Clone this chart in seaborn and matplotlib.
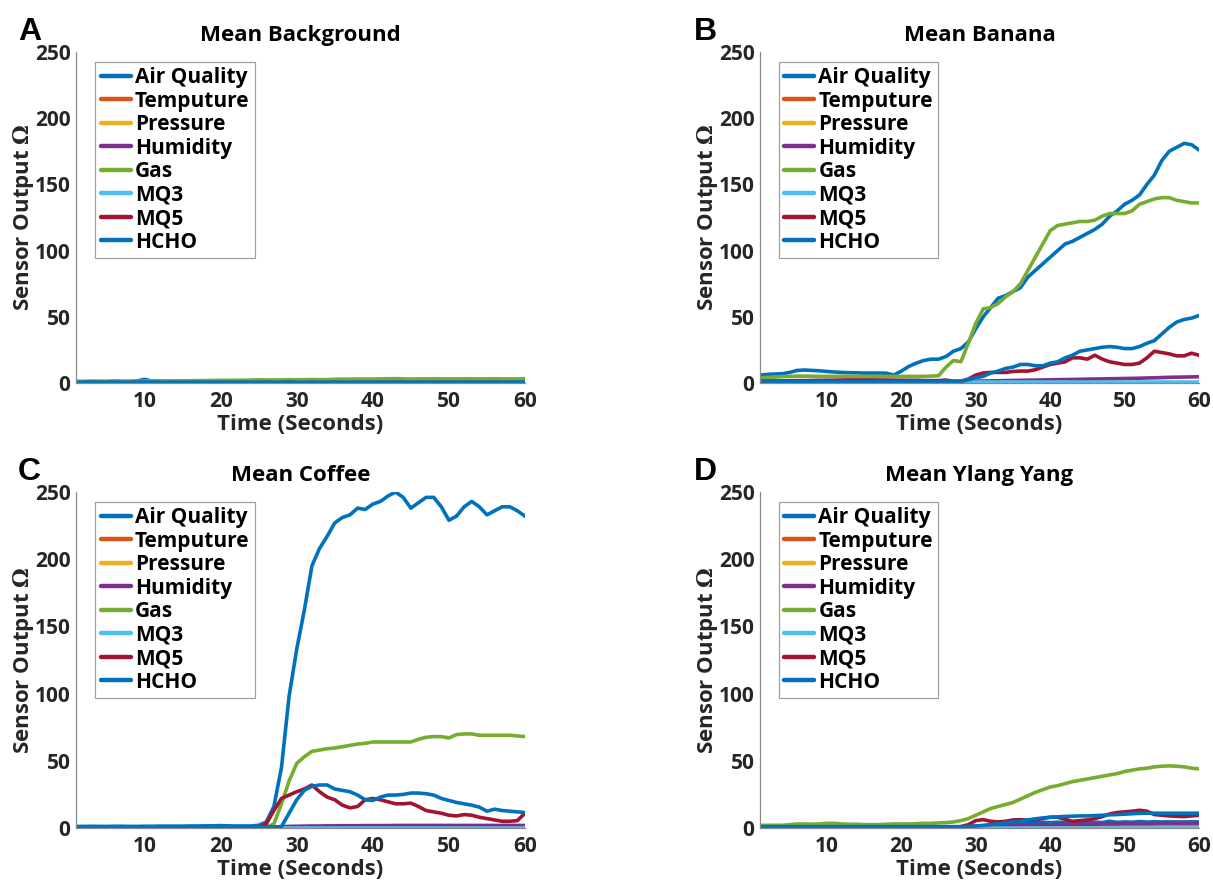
"""
plot.py - Mean sensor outputs for four odour samples (2x2 panels).
"""

import pandas as pd
import matplotlib
matplotlib.use("Agg")  # no display
import matplotlib.pyplot as plt
import seaborn as sns

TIME = list(range(1, 61))

SENSORS = ["Air Quality", "Temputure", "Pressure", "Humidity",
           "Gas", "MQ3", "MQ5", "HCHO"]
COLORS = ["#0072BD", "#D95319", "#EDB120", "#7E2F8E",
          "#77AC30", "#4DBEEE", "#A2142F", "#0072BD"]

PANEL_LETTERS = ["A", "B", "C", "D"]
PANEL_TITLES = ["Mean Background", "Mean Banana", "Mean Coffee", "Mean Ylang Yang"]
X_TICKS = [10, 20, 30, 40, 50, 60]
Y_TICKS = [0, 50, 100, 150, 200, 250]

# near-zero traces (Temputure, Pressure, MQ3 sit on the baseline)
NEAR_ZERO = [0.1, 0.1, 0.1, 0.1, 0.1, 0.1, 0.1, 0.1, 0.1, 0.1,
             0.1, 0.1, 0.1, 0.1, 0.1, 0.1, 0.1, 0.1, 0.1, 0.1,
             0.1, 0.1, 0.1, 0.1, 0.1, 0.1, 0.1, 0.1, 0.1, 0.1,
             0.1, 0.1, 0.1, 0.1, 0.1, 0.1, 0.1, 0.1, 0.1, 0.1,
             0.1, 0.1, 0.1, 0.1, 0.1, 0.1, 0.1, 0.1, 0.1, 0.1,
             0.1, 0.1, 0.1, 0.1, 0.1, 0.1, 0.1, 0.1, 0.1, 0.1]

# ---- A: background ----
bg_air = [1.2, 1.1, 1.3, 1.2, 1.1, 1.4, 1.2, 1.1, 1.5, 2.8,
          1.4, 1.2, 1.3, 1.2, 1.1, 1.2, 1.3, 1.2, 1.1, 1.2,
          1.3, 1.2, 1.2, 1.3, 1.2, 1.3, 1.2, 1.2, 1.3, 1.4,
          1.3, 1.2, 1.3, 1.2, 1.3, 1.4, 1.3, 1.2, 1.3, 1.4,
          1.3, 1.4, 1.3, 1.2, 1.3, 1.4, 1.3, 1.4, 1.5, 1.4,
          1.3, 1.4, 1.5, 1.4, 1.3, 1.4, 1.5, 1.4, 1.3, 1.4]
bg_hum = [0.3, 0.3, 0.3, 0.3, 0.3, 0.3, 0.3, 0.3, 0.3, 0.3,
          0.3, 0.3, 0.3, 0.3, 0.3, 0.3, 0.3, 0.3, 0.3, 0.3,
          0.3, 0.3, 0.3, 0.3, 0.3, 0.3, 0.3, 0.3, 0.3, 0.3,
          0.4, 0.4, 0.4, 0.4, 0.4, 0.4, 0.4, 0.4, 0.4, 0.4,
          0.4, 0.4, 0.4, 0.4, 0.4, 0.4, 0.4, 0.4, 0.4, 0.4,
          0.5, 0.5, 0.5, 0.5, 0.5, 0.5, 0.5, 0.5, 0.5, 0.5]
bg_gas = [1.0, 1.0, 1.1, 1.1, 1.2, 1.4, 1.3, 1.3, 1.4, 1.5,
          1.5, 1.6, 1.5, 1.6, 1.7, 1.7, 1.8, 1.8, 1.9, 2.0,
          2.0, 2.1, 2.1, 2.2, 2.4, 2.3, 2.3, 2.4, 2.5, 2.4,
          2.5, 2.6, 2.5, 2.5, 2.8, 2.9, 2.9, 3.0, 3.0, 3.0,
          3.1, 3.2, 3.3, 3.1, 3.0, 3.1, 3.1, 3.2, 3.1, 3.1,
          3.1, 3.2, 3.1, 3.1, 3.1, 3.2, 3.1, 3.1, 3.1, 3.2]
bg_mq5 = [0.2, 0.2, 0.2, 0.2, 0.2, 0.2, 0.2, 0.2, 0.2, 0.2,
          0.2, 0.2, 0.2, 0.2, 0.2, 0.2, 0.2, 0.2, 0.2, 0.2,
          0.2, 0.2, 0.2, 0.2, 0.2, 0.2, 0.2, 0.2, 0.2, 0.2,
          0.2, 0.2, 0.2, 0.2, 0.2, 0.2, 0.2, 0.2, 0.2, 0.2,
          0.2, 0.2, 0.2, 0.2, 0.2, 0.2, 0.2, 0.2, 0.2, 0.2,
          0.2, 0.2, 0.2, 0.2, 0.2, 0.2, 0.2, 0.2, 0.2, 0.2]
bg_hcho = [0.6, 0.6, 0.7, 0.6, 0.6, 0.7, 0.6, 0.6, 0.7, 0.8,
           0.7, 0.6, 0.6, 0.7, 0.6, 0.6, 0.7, 0.6, 0.6, 0.7,
           0.6, 0.6, 0.7, 0.6, 0.6, 0.7, 0.6, 0.6, 0.7, 0.6,
           0.6, 0.7, 0.6, 0.6, 0.7, 0.6, 0.6, 0.7, 0.6, 0.6,
           0.7, 0.6, 0.6, 0.7, 0.6, 0.6, 0.7, 0.6, 0.6, 0.7,
           0.6, 0.6, 0.7, 0.6, 0.6, 0.7, 0.6, 0.6, 0.7, 0.6]

# ---- B: banana ----
ban_air = [6, 6.5, 6.8, 7, 8, 9.5, 9.8, 9.5, 9.2, 8.7,
           8.3, 8, 7.8, 7.7, 7.5, 7.5, 7.5, 7.4, 6, 9,
           12.5, 15, 17, 18, 18, 20, 24, 26, 31, 41,
           50, 57, 64, 66, 69, 72, 80, 85, 90, 95,
           100, 105, 107, 110, 113, 116, 120, 126, 130, 135,
           138, 142, 150, 157, 168, 175, 178, 181, 180, 176]
ban_hum = [0.5, 0.5, 0.5, 0.6, 0.6, 0.6, 0.6, 0.7, 0.7, 0.7,
           0.7, 0.8, 0.8, 0.8, 0.8, 0.9, 0.9, 0.9, 0.9, 1.0,
           1.0, 1.0, 1.1, 1.1, 1.1, 1.2, 1.2, 1.3, 1.3, 1.4,
           1.5, 1.6, 1.7, 1.8, 1.9, 2.0, 2.1, 2.2, 2.3, 2.4,
           2.5, 2.6, 2.7, 2.8, 2.9, 3.0, 3.1, 3.2, 3.3, 3.4,
           3.5, 3.6, 3.8, 3.9, 4.1, 4.3, 4.4, 4.5, 4.6, 4.7]
ban_gas = [4, 4.2, 4.5, 4.8, 5, 5.2, 5.2, 5.1, 5, 5,
           5, 5, 5, 5, 5, 5, 5, 5, 5, 5,
           5, 5, 5, 5.2, 5.5, 12, 17, 16, 30, 45,
           56, 57, 60, 65, 69, 75, 85, 95, 105, 115,
           119, 120, 121, 122, 122, 123, 126, 128, 128, 128,
           130, 135, 137, 139, 140, 140, 138, 137, 136, 136]
ban_mq3 = [0.4, 0.4, 0.4, 0.4, 0.4, 0.4, 0.4, 0.4, 0.4, 0.4,
           0.4, 0.4, 0.4, 0.4, 0.4, 0.4, 0.4, 0.4, 0.4, 0.4,
           0.4, 0.4, 0.4, 0.4, 0.4, 0.4, 0.4, 0.4, 0.4, 0.4,
           0.4, 0.4, 0.4, 0.4, 0.4, 0.4, 0.4, 0.4, 0.4, 0.4,
           0.4, 0.4, 0.4, 0.4, 0.4, 0.4, 0.4, 0.4, 0.4, 0.4,
           0.4, 0.4, 0.4, 0.4, 0.4, 0.4, 0.4, 0.4, 0.4, 0.4]
ban_mq5 = [1.5, 1.5, 1.6, 1.6, 1.7, 1.8, 1.8, 1.9, 2.0, 2.0,
           2.1, 2.2, 2.3, 2.3, 2.3, 2.3, 2.2, 2.2, 2.1, 2.0,
           2.0, 2.0, 1.8, 1.8, 1.8, 2.2, 1.2, 1.2, 3, 6,
           7.5, 8, 8, 8, 8.7, 9, 9, 10, 12, 14,
           15, 16, 19, 19, 18, 21, 18, 16, 15, 14,
           14, 15, 19, 24, 23, 22, 20.5, 20.5, 22.5, 21]
ban_hcho = [1.5, 1.5, 1.4, 1.4, 1.3, 1.3, 1.3, 1.2, 1.2, 1.2,
            1.2, 1.2, 1.2, 1.2, 1.2, 1.2, 1.2, 1.2, 1.2, 1.2,
            1.2, 1.3, 1.3, 1.3, 1.3, 1.3, 1.2, 1.5, 2.5, 4,
            5, 7.5, 9, 11, 12, 14, 14, 13, 13, 15,
            16, 19, 21, 24, 25, 26, 27, 27.5, 27, 26,
            26, 27.5, 30, 32, 37, 42, 46, 48, 49, 51]

# ---- C: coffee ----
cof_air = [1.2, 1.2, 1.3, 1.2, 1.2, 1.3, 1.3, 1.2, 1.2, 1.3,
           1.3, 1.4, 1.4, 1.4, 1.4, 1.5, 1.5, 1.6, 1.6, 1.8,
           1.6, 1.5, 1.5, 1.5, 2, 4.5, 16, 45, 98, 133,
           162, 195, 208, 217, 227, 231, 233, 238, 237, 241,
           243, 247, 250, 246, 238, 242, 246, 246, 239, 229,
           232, 239, 243, 239, 233, 236, 239, 239, 236, 232]
cof_hum = [0.2, 0.2, 0.2, 0.2, 0.2, 0.2, 0.2, 0.2, 0.2, 0.2,
           0.2, 0.2, 0.2, 0.2, 0.2, 0.2, 0.2, 0.2, 0.2, 0.2,
           0.2, 0.2, 0.2, 0.2, 0.3, 0.5, 0.8, 1.0, 1.2, 1.3,
           1.4, 1.5, 1.5, 1.6, 1.6, 1.7, 1.7, 1.7, 1.8, 1.8,
           1.8, 1.8, 1.9, 1.9, 1.9, 1.9, 1.9, 1.9, 1.9, 1.9,
           1.9, 1.9, 1.9, 1.9, 1.9, 1.9, 1.9, 1.9, 1.9, 1.9]
cof_gas = [0.3, 0.3, 0.3, 0.3, 0.3, 0.3, 0.3, 0.3, 0.3, 0.3,
           0.3, 0.3, 0.3, 0.3, 0.3, 0.3, 0.3, 0.3, 0.3, 0.3,
           0.3, 0.3, 0.3, 0.3, 0.3, 0.5, 3, 18, 35, 48,
           53, 57, 58, 59, 59.5, 60.5, 61.5, 62.5, 63, 64,
           64, 64, 64, 64, 64, 66, 67.5, 68, 68, 67,
           69.5, 70, 70, 69, 69, 69, 69, 69, 68.5, 68]
cof_mq5 = [0.2, 0.2, 0.2, 0.2, 0.2, 0.2, 0.2, 0.2, 0.2, 0.2,
           0.2, 0.2, 0.2, 0.2, 0.2, 0.2, 0.2, 0.2, 0.2, 0.2,
           0.2, 0.2, 0.2, 0.2, 0.5, 3, 13, 22, 24.5, 27,
           29, 32, 27, 23, 21, 17, 15, 16, 21, 22,
           21, 19.5, 18, 18, 18.5, 16, 13, 12, 11, 9.5,
           9, 10, 9.5, 8, 7, 6, 5, 5, 5.5, 11]
cof_hcho = [0.8, 0.8, 0.8, 0.8, 0.8, 0.8, 0.8, 0.8, 0.8, 0.8,
            0.8, 0.8, 0.8, 0.8, 0.8, 0.8, 0.8, 0.8, 0.8, 0.8,
            0.8, 0.8, 0.8, 0.8, 0.8, 0.8, 0.8, 1, 11, 21,
            28, 31, 32, 32, 29, 28, 27, 24.5, 21, 20.5,
            23, 24.5, 24.5, 25, 26, 26, 25.5, 24.5, 22, 20.5,
            19, 18, 17, 15.5, 12.5, 14, 13, 12.5, 12, 11.5]

# ---- D: ylang yang ----
yl_air = [0.8, 0.8, 0.8, 0.8, 0.8, 0.8, 0.8, 0.8, 0.8, 0.8,
          0.8, 0.8, 0.8, 0.8, 0.8, 0.8, 0.8, 0.8, 0.8, 0.8,
          0.8, 0.8, 0.8, 0.8, 0.8, 0.8, 0.8, 0.9, 1.0, 1.2,
          1.6, 2.0, 2.5, 3.0, 3.5, 3.8, 4.0, 4.0, 4.2, 4.0,
          4.3, 4.1, 4.3, 4.2, 4.0, 4.3, 4.1, 5.0, 4.2, 4.5,
          4.3, 4.8, 4.4, 4.6, 4.5, 4.6, 4.5, 4.5, 4.6, 4.5]
yl_hum = [0.3, 0.3, 0.3, 0.3, 0.3, 0.3, 0.3, 0.3, 0.3, 0.3,
          0.3, 0.3, 0.3, 0.3, 0.3, 0.3, 0.3, 0.3, 0.3, 0.3,
          0.3, 0.3, 0.3, 0.3, 0.4, 0.5, 0.7, 0.9, 1.1, 1.3,
          1.5, 1.7, 1.8, 2.0, 2.1, 2.2, 2.3, 2.4, 2.5, 2.5,
          2.6, 2.6, 2.7, 2.7, 2.8, 2.8, 2.9, 2.9, 2.9, 3.0,
          3.0, 3.0, 3.0, 3.0, 3.1, 3.1, 3.1, 3.1, 3.1, 3.1]
yl_gas = [2, 2, 2, 2, 2.5, 3, 3, 2.8, 3, 3.5,
          3.5, 3, 2.8, 2.8, 2.5, 2.5, 2.5, 2.8, 3, 3,
          3, 3.2, 3.5, 3.5, 3.8, 4, 4.5, 5.5, 7, 9.5,
          12, 14.5, 16, 17.5, 19, 21.5, 24, 26.5, 28.5, 30.5,
          31.5, 33, 34.5, 35.5, 36.5, 37.5, 38.5, 39.5, 40.5, 42,
          43, 44, 44.5, 45.5, 46, 46.2, 46, 45.5, 44.5, 44]
yl_mq5 = [0.2, 0.2, 0.2, 0.2, 0.2, 0.2, 0.2, 0.2, 0.2, 0.2,
          0.2, 0.2, 0.2, 0.2, 0.2, 0.2, 0.2, 0.2, 0.2, 0.2,
          0.2, 0.2, 0.2, 0.2, 0.2, 0.3, 0.5, 1.0, 2.5, 5.5,
          6.2, 5.0, 4.5, 5.0, 6.0, 6.2, 5.8, 6.0, 7.0, 8.0,
          8.0, 6.5, 5.0, 5.5, 6.0, 7.0, 8.5, 10.5, 11.5, 12.0,
          12.5, 13.2, 12.5, 10.0, 9.5, 9.0, 8.7, 8.5, 9.0, 9.5]
yl_hcho = [1.0, 1.0, 1.0, 1.0, 1.0, 1.0, 1.0, 1.0, 1.0, 1.0,
           1.0, 1.0, 1.0, 1.0, 1.0, 1.0, 1.0, 1.0, 1.0, 1.0,
           1.0, 1.0, 1.0, 1.0, 1.0, 1.0, 1.0, 1.0, 1.2, 1.5,
           2.0, 2.5, 3.0, 3.8, 4.5, 5.2, 6.0, 6.8, 7.5, 8.0,
           8.3, 8.6, 8.8, 9.0, 9.0, 9.2, 9.5, 9.8, 10.0, 10.3,
           10.6, 10.9, 11.0, 11.0, 11.0, 11.0, 11.0, 11.0, 11.0, 11.0]

PANELS = [
    [bg_air, NEAR_ZERO, NEAR_ZERO, bg_hum, bg_gas, NEAR_ZERO, bg_mq5, bg_hcho],
    [ban_air, NEAR_ZERO, NEAR_ZERO, ban_hum, ban_gas, ban_mq3, ban_mq5, ban_hcho],
    [cof_air, NEAR_ZERO, NEAR_ZERO, cof_hum, cof_gas, NEAR_ZERO, cof_mq5, cof_hcho],
    [yl_air, NEAR_ZERO, NEAR_ZERO, yl_hum, yl_gas, NEAR_ZERO, yl_mq5, yl_hcho],
]

# axes rectangles in figure fraction (left, bottom, width, height)
W, H = 1213, 884
AX_RECTS = [
    (76 / W, 1 - 383 / H, 449 / W, 331 / H),
    (760 / W, 1 - 383 / H, 439 / W, 331 / H),
    (76 / W, 1 - 828 / H, 449 / W, 336 / H),
    (760 / W, 1 - 828 / H, 439 / W, 336 / H),
]
LETTER_POS = [(18 / W, 1 - 40 / H), (694 / W, 1 - 40 / H),
              (18 / W, 1 - 480 / H), (694 / W, 1 - 480 / H)]

sns.set_theme(style="white")
plt.rcParams["font.family"] = ["Open Sans", "DejaVu Sans"]
plt.rcParams["font.weight"] = "bold"

AXIS_GREY = "#8a8a8a"
TEXT_COL = "#262626"


def panel_frame(series_list):
    """Long-form table for one panel."""
    rows = []
    for name, vals in zip(SENSORS, series_list):
        for t, v in zip(TIME, vals):
            rows.append({"time": t, "value": v, "sensor": name})
    return pd.DataFrame(rows)


def draw_panel(ax, series_list, title):
    df = panel_frame(series_list)
    palette = dict(zip(SENSORS, COLORS))
    sns.lineplot(data=df, x="time", y="value", hue="sensor",
                 hue_order=SENSORS, palette=palette, estimator=None,
                 sort=False, linewidth=2.6, ax=ax)

    old = ax.get_legend()
    handles = old.legend_handles
    labels = [t.get_text() for t in old.get_texts()]
    for h in handles:
        h.set_linewidth(3.2)
    leg = ax.legend(handles, labels, loc="upper left",
                    bbox_to_anchor=(0.043, 0.97), borderaxespad=0,
                    fontsize=15, handlelength=1.45, handletextpad=0.2,
                    labelspacing=0.12, borderpad=0.25, frameon=True,
                    fancybox=False, framealpha=1, edgecolor="#a0a0a0")
    leg.get_frame().set_linewidth(0.9)
    for t in leg.get_texts():
        t.set_fontweight("bold")
        t.set_color("black")

    ax.set_xlim(1, 60)
    ax.set_ylim(0, 250)
    ax.set_xticks(X_TICKS)
    ax.set_yticks(Y_TICKS)
    ax.tick_params(direction="in", length=4, width=0.8, color=AXIS_GREY,
                   labelsize=15, labelcolor=TEXT_COL)
    ax.tick_params(axis="x", pad=6)
    ax.tick_params(axis="y", pad=4)
    for lab in ax.get_xticklabels() + ax.get_yticklabels():
        lab.set_fontweight("bold")
    sns.despine(ax=ax)
    for side in ("left", "bottom"):
        ax.spines[side].set_color(AXIS_GREY)
        ax.spines[side].set_linewidth(0.9)

    ax.set_title(title, fontsize=16, fontweight="bold", color="black", pad=8)
    ax.set_xlabel("Time (Seconds)", fontsize=16, fontweight="bold",
                  color=TEXT_COL, labelpad=1)
    ax.set_ylabel(r"Sensor Output $\mathit{\Omega}$", fontsize=16,
                  fontweight="bold", color=TEXT_COL, labelpad=-1,
                  math_fontfamily="dejavuserif")


fig = plt.figure(figsize=(W / 100, H / 100), dpi=100)
for i in range(4):
    ax = fig.add_axes(AX_RECTS[i])
    draw_panel(ax, PANELS[i], PANEL_TITLES[i])
    fig.text(LETTER_POS[i][0], LETTER_POS[i][1], PANEL_LETTERS[i],
             fontsize=23, fontweight="bold", color="black",
             family=["Liberation Sans", "DejaVu Sans"], va="baseline")

fig.savefig("out.png", dpi=100, facecolor="white")
